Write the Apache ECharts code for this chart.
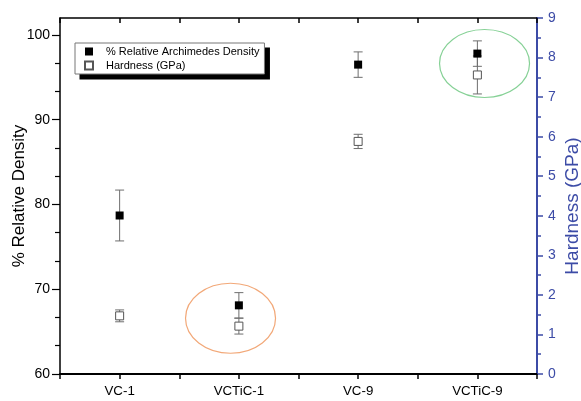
<!DOCTYPE html>
<html>
<head>
<meta charset="utf-8">
<script src="https://cdn.jsdelivr.net/npm/echarts@6/dist/echarts.min.js"></script>
<style>
html,body{margin:0;padding:0;background:#fff;}
#c{width:581px;height:401px;}
</style>
</head>
<body>
<div id="c"></div>
<script>
// ---- data ----
const categories = ['VC-1', 'VCTiC-1', 'VC-9', 'VCTiC-9'];
const density = [78.7, 68.1, 96.5, 97.8];
const densityErr = [3.0, 1.5, 1.5, 1.5];
const hardness = [1.47, 1.21, 5.88, 7.56];
const hardnessErr = [0.15, 0.2, 0.18, 0.48];
const densityTicks = [60, 70, 80, 90, 100];
const hardnessTicks = [0, 1, 2, 3, 4, 5, 6, 7, 8, 9];

// ---- styling ----
const BLUE = '#3c4ba6';
const FONT = 'Liberation Sans, Arial, sans-serif';
const pos = categories.map((c, i) => i + 0.5);
const minorDensity = [];
for (let i = 0; i < densityTicks.length - 1; i++) {
  const a = densityTicks[i], b = densityTicks[i + 1];
  minorDensity.push(a + (b - a) / 3, a + 2 * (b - a) / 3);
}

function errRender(params, api) {
  const x = api.value(0), lo = api.value(1), hi = api.value(2);
  const p1 = api.coord([x, hi]), p2 = api.coord([x, lo]);
  const w = 4.5;
  const st = { stroke: '#6e6e6e', lineWidth: 1 };
  return {
    type: 'group',
    children: [
      { type: 'line', shape: { x1: p1[0], y1: p1[1], x2: p2[0], y2: p2[1] }, style: st },
      { type: 'line', shape: { x1: p1[0] - w, y1: p1[1], x2: p1[0] + w, y2: p1[1] }, style: st },
      { type: 'line', shape: { x1: p2[0] - w, y1: p2[1], x2: p2[0] + w, y2: p2[1] }, style: st }
    ]
  };
}

const chart = echarts.init(document.getElementById('c'), null, { renderer: 'canvas' });
const xBase = {
  type: 'value', min: 0, max: categories.length, interval: 0.5,
  splitLine: { show: false }
};
const option = {
  backgroundColor: '#fff',
  animation: false,
  textStyle: { fontFamily: FONT },
  grid: { left: 60, right: 44, top: 18, bottom: 27, containLabel: false, outerBoundsMode: 'none' },
  legend: {
    orient: 'vertical', left: 75, top: 43,
    padding: [3, 5, 3, 9], itemGap: 3, itemWidth: 8, itemHeight: 8,
    backgroundColor: '#fff', borderColor: '#777', borderWidth: 1,
    textStyle: { fontSize: 11, color: '#000', fontFamily: FONT, padding: [0, 0, 0, 8] },
    data: ['% Relative Archimedes Density', 'Hardness (GPa)'],
    z: 10
  },
  xAxis: [
    Object.assign({}, xBase, {
      position: 'bottom',
      axisLine: { onZero: false, lineStyle: { color: '#000', width: 2 } },
      axisTick: { show: true, length: 5, lineStyle: { color: '#000', width: 1.5 } },
      axisLabel: {
        fontSize: 13.3, color: '#000', margin: 11, fontFamily: FONT,
        formatter: v => {
          const i = v - 0.5;
          return Number.isInteger(i) && categories[i] !== undefined ? categories[i] : '';
        }
      }
    }),
    Object.assign({}, xBase, {
      position: 'top',
      axisLine: { onZero: false, lineStyle: { color: '#000', width: 1.5 } },
      axisTick: { show: true, inside: true, length: 5, lineStyle: { color: '#000', width: 1.5 } },
      axisLabel: { show: false }
    })
  ],
  yAxis: [
    {
      type: 'value', min: 60, max: 102, position: 'left',
      name: '% Relative Density', nameLocation: 'middle', nameRotate: 90, nameGap: 32,
      nameMoveOverlap: false,
      nameTextStyle: { fontSize: 17, color: '#000', fontFamily: FONT },
      axisLine: { show: true, onZero: false, lineStyle: { color: '#000', width: 1.5 } },
      axisTick: { show: true, length: 8, customValues: densityTicks, lineStyle: { color: '#000', width: 1.2 } },
      axisLabel: { fontSize: 14, color: '#000', margin: 10, customValues: densityTicks, fontFamily: FONT },
      splitLine: { show: false }
    },
    {
      type: 'value', min: 0, max: 9, interval: 1, position: 'right',
      name: 'Hardness (GPa)', nameLocation: 'middle', nameRotate: 90, nameGap: 26,
      nameMoveOverlap: false,
      nameTextStyle: { fontSize: 19, color: BLUE, fontFamily: FONT, padding: [0, 20, 0, 0] },
      axisLine: { show: true, onZero: false, lineStyle: { color: BLUE, width: 2 } },
      axisTick: { show: true, length: 6, lineStyle: { color: BLUE, width: 1.5 } },
      minorTick: { show: true, splitNumber: 2, length: 4, lineStyle: { color: BLUE, width: 1.5 } },
      axisLabel: { fontSize: 14, color: BLUE, margin: 11, fontFamily: FONT,
        formatter: v => hardnessTicks.indexOf(v) >= 0 ? String(v) : '' },
      splitLine: { show: false }
    },
    {
      type: 'value', min: 60, max: 102, position: 'left',
      axisLine: { show: false, onZero: false },
      axisTick: { show: true, length: 5, customValues: minorDensity, lineStyle: { color: '#000', width: 1.2 } },
      axisLabel: { show: false },
      splitLine: { show: false }
    }
  ],
  series: [
    {
      type: 'custom', name: 'densityErr', xAxisIndex: 0, yAxisIndex: 0, z: 1,
      renderItem: errRender, encode: { x: 0, y: [1, 2] },
      data: pos.map((p, i) => [p, density[i] - densityErr[i], density[i] + densityErr[i]])
    },
    {
      type: 'custom', name: 'hardnessErr', xAxisIndex: 0, yAxisIndex: 1, z: 1,
      renderItem: errRender, encode: { x: 0, y: [1, 2] },
      data: pos.map((p, i) => [p, hardness[i] - hardnessErr[i], hardness[i] + hardnessErr[i]])
    },
    {
      type: 'scatter', name: '% Relative Archimedes Density', xAxisIndex: 0, yAxisIndex: 0, z: 3,
      symbol: 'rect', symbolSize: 8,
      itemStyle: { color: '#000', opacity: 1 },
      data: pos.map((p, i) => [p, density[i]])
    },
    {
      type: 'scatter', name: 'Hardness (GPa)', xAxisIndex: 0, yAxisIndex: 1, z: 3,
      symbol: 'rect', symbolSize: 8,
      itemStyle: { color: '#fff', borderColor: '#555', borderWidth: 1, opacity: 1 },
      data: pos.map((p, i) => [p, hardness[i]])
    }
  ]
};
chart.setOption(option);

// annotation ellipses (placed in hardness-axis coordinates) and the legend's drop shadow
const notes = [
  { x: 1.43, y: 1.41, rx: 45, ry: 35, color: '#f2a878' },
  { x: 3.56, y: 7.85, rx: 45, ry: 34, color: '#86d196' }
];
const graphics = notes.map(n => {
  const p = chart.convertToPixel({ xAxisIndex: 0, yAxisIndex: 1 }, [n.x, n.y]);
  return { type: 'ellipse', shape: { cx: p[0], cy: p[1], rx: n.rx, ry: n.ry },
    style: { fill: 'none', stroke: n.color, lineWidth: 1.2 }, z: 0, silent: true };
});
const legendView = chart.getViewOfComponentModel(chart.getModel().getComponent('legend'));
let lb = null;
try { lb = legendView.group.getBoundingRect(); } catch (e) {}
if (lb) {
  const gx = legendView.group.x, gy = legendView.group.y;
  graphics.push({ type: 'rect', shape: { x: gx + lb.x + 5, y: gy + lb.y + 5, width: lb.width, height: lb.height },
    style: { fill: '#000' }, z: 5, silent: true });
}
chart.setOption({ graphic: graphics });
</script>
</body>
</html>
